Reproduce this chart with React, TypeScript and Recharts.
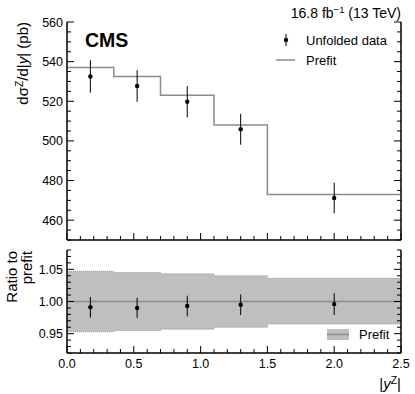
import React from "react";
import {
  ComposedChart,
  Line,
  Scatter,
  ErrorBar,
  Area,
  XAxis,
  YAxis,
  ReferenceLine,
  Legend,
} from "recharts";

// bin edges in |y^Z| and values
const binEdges = [0, 0.35, 0.7, 1.1, 1.5, 2.5];
const prefitXsec = [537, 532.5, 523, 508, 473];
const binCenters = [0.175, 0.525, 0.9, 1.3, 2.0];
const dataXsec = [532.5, 527.7, 519.8, 505.9, 471.2];
const dataXsecErr = [8.2, 8.0, 7.9, 7.8, 7.7];
const ratioVal = [0.991, 0.99, 0.993, 0.995, 0.996];
const ratioErr = [0.016, 0.016, 0.016, 0.016, 0.017];
const bandLow = [0.953, 0.955, 0.957, 0.96, 0.965];
const bandHigh = [1.047, 1.045, 1.043, 1.04, 1.036];

const xTicks = [
  0, 0.1, 0.2, 0.3, 0.4, 0.5, 0.6, 0.7, 0.8, 0.9, 1.0, 1.1, 1.2, 1.3, 1.4,
  1.5, 1.6, 1.7, 1.8, 1.9, 2.0, 2.1, 2.2, 2.3, 2.4, 2.5,
];
const xMajor = [0, 0.5, 1.0, 1.5, 2.0, 2.5];
const xLabels = ["0.0", "0.5", "1.0", "1.5", "2.0", "2.5"];

const yTicks = [
  450, 455, 460, 465, 470, 475, 480, 485, 490, 495, 500, 505, 510, 515, 520,
  525, 530, 535, 540, 545, 550, 555, 560,
];
const yMajor = [460, 480, 500, 520, 540, 560];
const yLabels = ["460", "480", "500", "520", "540", "560"];

const rTicks = [
  0.92, 0.93, 0.94, 0.95, 0.96, 0.97, 0.98, 0.99, 1.0, 1.01, 1.02, 1.03, 1.04,
  1.05, 1.06, 1.07, 1.08,
];
const rMajor = [0.95, 1.0, 1.05];
const rLabels = ["0.95", "1.00", "1.05"];

const FONT = "'Liberation Sans', Arial, sans-serif";
const W = 415;

const prefitData = binEdges.map((x, i) => ({
  x,
  v: prefitXsec[Math.min(i, prefitXsec.length - 1)],
}));
const pointData = binCenters.map((x, i) => ({
  x,
  v: dataXsec[i],
  e: dataXsecErr[i],
}));
const bandData = binEdges.map((x, i) => {
  const k = Math.min(i, bandLow.length - 1);
  return { x, band: [bandLow[k], bandHigh[k]] };
});
const ratioData = binCenters.map((x, i) => ({
  x,
  v: ratioVal[i],
  e: ratioErr[i],
}));

const idx = (arr: number[], v: number) =>
  arr.findIndex((m) => Math.abs(m - v) < 1e-6);

function makeTick(
  side: "bottom" | "top" | "left" | "right",
  major: number[],
  labels: string[] | null
) {
  return (props: any) => {
    const { x, y, payload } = props;
    const k = idx(major, payload.value);
    const len = k >= 0 ? 7 : 4;
    let line;
    if (side === "bottom") line = { x1: x, x2: x, y1: y, y2: y - len };
    else if (side === "top") line = { x1: x, x2: x, y1: y, y2: y + len };
    else if (side === "left") line = { x1: x, x2: x + len, y1: y, y2: y };
    else line = { x1: x, x2: x - len, y1: y, y2: y };
    return (
      <g>
        <line {...line} stroke="#000" strokeWidth={1} />
        {labels && k >= 0 && side === "bottom" && (
          <text x={x} y={y + 15} textAnchor="middle" fontSize={12.5} fontFamily={FONT} fill="#000">
            {labels[k]}
          </text>
        )}
        {labels && k >= 0 && side === "left" && (
          <text x={x - 4} y={y + 4.5} textAnchor="end" fontSize={12.5} fontFamily={FONT} fill="#000">
            {labels[k]}
          </text>
        )}
      </g>
    );
  };
}

const axisLine = { stroke: "#000", strokeWidth: 1.5 };

const dot = (p: any) => <circle cx={p.cx} cy={p.cy} r={2.2} fill="#000" />;

function TopLegend() {
  return (
    <div style={{ fontFamily: FONT, fontSize: 13, color: "#000" }}>
      <div style={{ display: "flex", alignItems: "center", height: 20 }}>
        <svg width={30} height={20}>
          <line x1={10} x2={10} y1={4} y2={16} stroke="#000" strokeWidth={1} />
          <circle cx={10} cy={10} r={2.2} fill="#000" />
        </svg>
        <span>Unfolded data</span>
      </div>
      <div style={{ display: "flex", alignItems: "center", height: 20 }}>
        <svg width={30} height={20}>
          <line x1={0} x2={19} y1={10} y2={10} stroke="#8c8c8c" strokeWidth={1.5} />
        </svg>
        <span>Prefit</span>
      </div>
    </div>
  );
}

function RatioLegend() {
  return (
    <div style={{ fontFamily: FONT, fontSize: 13, color: "#000", display: "flex", alignItems: "center" }}>
      <svg width={32} height={12}>
        <rect x={0.5} y={0.5} width={21} height={10} fill="#bfbfbf" stroke="#999" strokeDasharray="1 1" />
        <line x1={0} x2={22} y1={5.5} y2={5.5} stroke="#8c8c8c" strokeWidth={1.5} />
      </svg>
      <span>Prefit</span>
    </div>
  );
}

export default function App() {
  return (
    <div style={{ position: "absolute", left: 0, top: 0, width: W, height: 394, background: "#fff" }}>
      <div style={{ position: "absolute", left: 0, top: 0 }}>
        <ComposedChart width={W} height={250} margin={{ top: 22, right: 0, bottom: 0, left: 0 }}>
          <XAxis xAxisId="b" dataKey="x" type="number" domain={[0, 2.5]} ticks={xTicks} interval={0}
            allowDataOverflow tickSize={0} tickMargin={0} tickLine={false} axisLine={axisLine}
            height={10} tick={makeTick("bottom", xMajor, null)} />
          <XAxis xAxisId="t" orientation="top" dataKey="x" type="number" domain={[0, 2.5]} ticks={xTicks}
            interval={0} allowDataOverflow tickSize={0} tickMargin={0} tickLine={false} axisLine={axisLine}
            height={0} tick={makeTick("top", xMajor, null)} />
          <YAxis yAxisId="l" type="number" domain={[450, 560]} ticks={yTicks} interval={0} allowDataOverflow
            tickSize={0} tickMargin={0} tickLine={false} axisLine={axisLine} width={67}
            tick={makeTick("left", yMajor, yLabels)} />
          <YAxis yAxisId="r" orientation="right" type="number" domain={[450, 560]} ticks={yTicks} interval={0}
            allowDataOverflow tickSize={0} tickMargin={0} tickLine={false} axisLine={axisLine} width={14}
            tick={makeTick("right", yMajor, null)} />
          <Line xAxisId="b" yAxisId="l" data={prefitData} dataKey="v" type="stepAfter" stroke="#8c8c8c"
            strokeWidth={1.5} dot={false} isAnimationActive={false} />
          <Scatter xAxisId="b" yAxisId="l" data={pointData} dataKey="v" shape={dot} isAnimationActive={false}>
            <ErrorBar dataKey="e" direction="y" width={0} stroke="#000" strokeWidth={1} isAnimationActive={false} />
          </Scatter>
          <Legend layout="vertical" align="center" verticalAlign="middle" content={() => <TopLegend />}
            wrapperStyle={{ position: "absolute", left: 276, top: 30, width: 135 }} />
        </ComposedChart>
      </div>
      <div style={{ position: "absolute", left: 0, top: 0 }}>
        <ComposedChart width={W} height={394} margin={{ top: 250, right: 0, bottom: 0, left: 0 }}>
          <XAxis xAxisId="b" dataKey="x" type="number" domain={[0, 2.5]} ticks={xTicks} interval={0}
            allowDataOverflow tickSize={0} tickMargin={0} tickLine={false} axisLine={axisLine}
            height={41} tick={makeTick("bottom", xMajor, xLabels)} />
          <XAxis xAxisId="t" orientation="top" dataKey="x" type="number" domain={[0, 2.5]} ticks={xTicks}
            interval={0} allowDataOverflow tickSize={0} tickMargin={0} tickLine={false} axisLine={axisLine}
            height={0} tick={makeTick("top", xMajor, null)} />
          <YAxis yAxisId="l" type="number" domain={[0.92, 1.08]} ticks={rTicks} interval={0} allowDataOverflow
            tickSize={0} tickMargin={0} tickLine={false} axisLine={axisLine} width={67}
            tick={makeTick("left", rMajor, rLabels)} />
          <YAxis yAxisId="r" orientation="right" type="number" domain={[0.92, 1.08]} ticks={rTicks} interval={0}
            allowDataOverflow tickSize={0} tickMargin={0} tickLine={false} axisLine={axisLine} width={14}
            tick={makeTick("right", rMajor, null)} />
          <Area xAxisId="b" yAxisId="l" data={bandData} dataKey="band" type="stepAfter" fill="#bfbfbf"
            fillOpacity={1} stroke="#999" strokeDasharray="1 1" strokeWidth={1} isAnimationActive={false} />
          <ReferenceLine xAxisId="b" yAxisId="l" y={1} stroke="#8c8c8c" strokeWidth={1.5} />
          <Scatter xAxisId="b" yAxisId="l" data={ratioData} dataKey="v" shape={dot} isAnimationActive={false}>
            <ErrorBar dataKey="e" direction="y" width={0} stroke="#000" strokeWidth={1} isAnimationActive={false} />
          </Scatter>
          <Legend layout="vertical" align="center" verticalAlign="middle" content={() => <RatioLegend />}
            wrapperStyle={{ position: "absolute", left: 327, top: 327, width: 80 }} />
        </ComposedChart>
      </div>
      <svg width={W} height={394} style={{ position: "absolute", left: 0, top: 0, pointerEvents: "none" }}
        fontFamily={FONT}>
        <text x={401} y={18} textAnchor="end" fontSize={14}>
          16.8 fb<tspan dy={-5} fontSize={9.5}>−1</tspan>
          <tspan dy={5}> (13 TeV)</tspan>
        </text>
        <text x={85} y={47} fontSize={19.5} fontWeight="bold">
          CMS
        </text>
        <text transform="translate(28,22) rotate(-90)" textAnchor="end" fontSize={15}>
          dσ<tspan dy={-5.5} fontSize={10.5}>Z</tspan>
          <tspan dy={5.5}>/d|</tspan>
          <tspan fontStyle="italic">y</tspan>| (pb)
        </text>
        <text transform="translate(17,251) rotate(-90)" textAnchor="end" fontSize={15}>
          Ratio to
        </text>
        <text transform="translate(32,251) rotate(-90)" textAnchor="end" fontSize={15}>
          prefit
        </text>
        <text x={401} y={389} textAnchor="end" fontSize={15}>
          |<tspan fontStyle="italic">y</tspan>
          <tspan dy={-5.5} fontSize={10.5}>Z</tspan>
          <tspan dy={5.5}>|</tspan>
        </text>
      </svg>
    </div>
  );
}
